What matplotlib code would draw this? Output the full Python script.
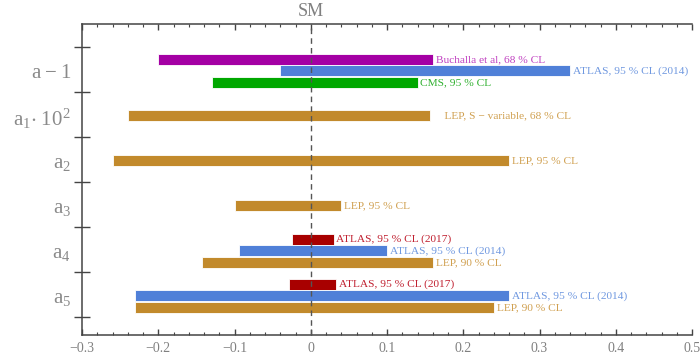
import numpy as np
import matplotlib.pyplot as plt
from matplotlib.ticker import MultipleLocator

# ----------------------------
# Data (bounds)
# ----------------------------
params = ["a5", "a4", "a3", "a2", "a1", "am1"]
param_labels = [r"$\mathregular{a_5}$", r"$\mathregular{a_4}$", r"$\mathregular{a_3}$",
                r"$\mathregular{a_2}$", r"$\mathregular{a_1\!\cdot 10^2}$", r"$\mathregular{a-1}$"]

# each entry: (parameter, slot within group (+1 top, 0 mid, -1 bottom), low, high, label, source)
bar_param = ["am1", "am1", "am1", "a1", "a2", "a3", "a4", "a4", "a4", "a5", "a5", "a5"]
bar_slot = [1, 0, -1, 0, 0, 0, 1, 0, -1, 1, 0, -1]
bar_low = [-0.20, -0.04, -0.13, -0.24, -0.26, -0.10, -0.025, -0.094, -0.142, -0.029, -0.23, -0.23]
bar_high = [0.16, 0.34, 0.14, 0.157, 0.26, 0.04, 0.03, 0.10, 0.16, 0.033, 0.26, 0.24]
bar_source = ["buchalla", "atlas14", "cms", "lep", "lep", "lep",
              "atlas17", "atlas14", "lep", "atlas17", "atlas14", "lep"]
bar_text = ["Buchalla et al, 68 % CL", "ATLAS, 95 % CL (2014)", "CMS, 95 % CL",
            "    LEP, S \u2212 variable, 68 % CL", "LEP, 95 % CL", "LEP, 95 % CL",
            "ATLAS, 95 % CL (2017)", "ATLAS, 95 % CL (2014)", "LEP, 90 % CL",
            "ATLAS, 95 % CL (2017)", "ATLAS, 95 % CL (2014)", "LEP, 90 % CL"]

bar_colors = {"buchalla": "#a400a4", "atlas14": "#5080d8", "cms": "#00a800",
              "lep": "#c28a2c", "atlas17": "#a80000"}
text_colors = {"buchalla": "#c040c0", "atlas14": "#6f98e0", "cms": "#30b030",
               "lep": "#d0a050", "atlas17": "#c02030"}

# ----------------------------
# Plot
# ----------------------------
plt.rcParams["font.family"] = ["Liberation Serif", "DejaVu Serif"]
plt.rcParams["mathtext.fontset"] = "custom"
plt.rcParams["mathtext.rm"] = "Liberation Serif"

fig = plt.figure(figsize=(7.0, 3.62), dpi=100)
ax = fig.add_axes([82 / 700, 27 / 362, 610 / 700, 311 / 362])

centers = {p: 0.87 + i for i, p in enumerate(params)}
step = 0.255
height = 0.245

for p, s, lo, hi, txt, src in zip(bar_param, bar_slot, bar_low, bar_high, bar_text, bar_source):
    y = centers[p] + s * step
    ax.barh(y, hi - lo, left=lo, height=height, color=bar_colors[src],
            edgecolor="white", linewidth=0.6, zorder=2)
    ax.annotate(txt, (hi, y), xytext=(2, 0), textcoords="offset points",
                va="center", ha="left", fontsize=8.2, color=text_colors[src])

ax.axvline(0, color="#555555", linestyle=(0, (4, 3)), linewidth=1.0, zorder=3)
ax.text(0, 1.012, "SM", transform=ax.get_xaxis_transform(), ha="center", va="bottom",
        fontsize=13, color="#808080")

ax.set_xlim(-0.3, 0.5)
ax.set_ylim(0, 6.91)

# x axis: ticks inside, both bottom and top
ax.xaxis.set_major_locator(MultipleLocator(0.1))
ax.xaxis.set_minor_locator(MultipleLocator(0.02))
ax.tick_params(axis="x", which="both", direction="in", top=True, bottom=True,
               colors="#444444", labelcolor="#808080", labelsize=10)
ax.tick_params(axis="x", which="major", length=4.5, width=1.0, pad=5)
ax.tick_params(axis="x", which="minor", length=2.5, width=0.8)
ax.set_xticks(np.arange(-0.3, 0.51, 0.1))
ax.set_xticklabels(["\u22120.3", "\u22120.2", "\u22120.1", "0", "0.1", "0.2", "0.3", "0.4", "0.5"])

# y axis: separators as major ticks, parameter names as minor ticks
ax.set_yticks([0.4 + i for i in range(7)])
ax.set_yticklabels([])
ax.set_yticks([centers[p] for p in params], minor=True)
ax.set_yticklabels(param_labels, minor=True)
ax.tick_params(axis="y", which="major", direction="inout", length=12, width=1.0, color="#444444")
ax.tick_params(axis="y", which="minor", length=0, pad=8, labelsize=15, labelcolor="#8a8a8a")

for side in ["left", "top", "bottom"]:
    ax.spines[side].set_color("#444444")
    ax.spines[side].set_linewidth(1.1)
ax.spines["right"].set_visible(False)

fig.savefig("out.png", dpi=100)
